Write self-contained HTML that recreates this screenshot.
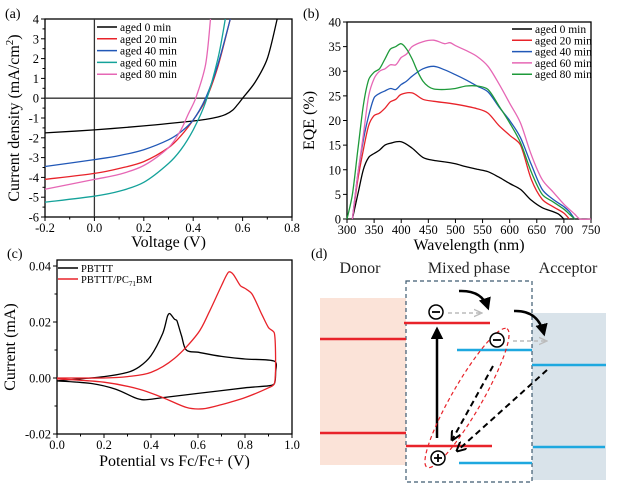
<!DOCTYPE html>
<html><head><meta charset="utf-8"><style>
body{margin:0;background:#fff;}
svg{display:block;font-family:"Liberation Serif",serif;}
</style></head><body>
<svg id="fig" width="619" height="487" viewBox="0 0 619 487" xmlns="http://www.w3.org/2000/svg">
<defs>
<marker id="ah" viewBox="0 0 10 10" refX="8" refY="5" markerWidth="5" markerHeight="5" orient="auto"><path d="M0,0 L10,5 L0,10 z" fill="#000"/></marker>
<marker id="ahg" viewBox="0 0 10 10" refX="9" refY="5" markerWidth="6" markerHeight="6" orient="auto"><path d="M0,1 L9,5 L0,9" fill="none" stroke="#bbb" stroke-width="1.5"/></marker>
<marker id="aho" viewBox="0 0 10 10" refX="9" refY="5" markerWidth="5" markerHeight="5" orient="auto"><path d="M0,0 L10,5 L0,10" fill="none" stroke="#000" stroke-width="2"/></marker>
</defs>
<g id="pa"></g>
<g id="pb"></g>
<g id="pc"></g>
<g id="pd">
<text x="5" y="18" font-size="14">(a)</text>
<text x="303" y="18" font-size="14">(b)</text>
<text x="7" y="258" font-size="14">(c)</text>
<text x="311" y="258" font-size="14">(d)</text>
<text x="360" y="273" font-size="16" text-anchor="middle" fill="#222">Donor</text>
<text x="469" y="273" font-size="16" text-anchor="middle" fill="#222">Mixed phase</text>
<text x="568" y="273" font-size="16" text-anchor="middle" fill="#222">Acceptor</text>
<rect x="320" y="298" width="86" height="167" fill="#fbe3d8"/>
<rect x="532" y="313" width="74" height="167" fill="#d9e3ea"/>
<rect x="406" y="281" width="126" height="201" fill="none" stroke="#3d5a70" stroke-width="1.2" stroke-dasharray="4,3"/>
<g stroke="#e8232a" stroke-width="2.5">
<line x1="320" y1="339" x2="406" y2="339"/><line x1="320" y1="433" x2="406" y2="433"/>
<line x1="404" y1="323" x2="490" y2="323"/><line x1="406" y1="446" x2="492" y2="446"/></g>
<g stroke="#1ea8df" stroke-width="2.5">
<line x1="457" y1="350" x2="532" y2="350"/><line x1="459" y1="463" x2="532" y2="463"/>
<line x1="532" y1="365" x2="606" y2="365"/><line x1="533" y1="447" x2="605" y2="447"/></g>
<line x1="437" y1="438" x2="437" y2="329" stroke="#000" stroke-width="2.5" marker-end="url(#ah)"/>
<ellipse cx="467" cy="398" rx="80" ry="15" transform="rotate(-60 467 398)" fill="none" stroke="#e8232a" stroke-width="1.2" stroke-dasharray="4,3"/>
<line x1="448" y1="313" x2="482" y2="313" stroke="#bbb" stroke-width="1.5" stroke-dasharray="4,3" marker-end="url(#ahg)"/>
<line x1="513" y1="341" x2="547" y2="341" stroke="#bbb" stroke-width="1.5" stroke-dasharray="4,3" marker-end="url(#ahg)"/>
<path d="M459,291 Q482,290 488,308" fill="none" stroke="#000" stroke-width="2.5" marker-end="url(#ah)"/>
<path d="M514,311 Q538,310 544,334" fill="none" stroke="#000" stroke-width="2.5" marker-end="url(#ah)"/>
<line x1="493" y1="366" x2="452" y2="440" stroke="#000" stroke-width="2" stroke-dasharray="6,4" marker-end="url(#aho)"/>
<line x1="547" y1="370" x2="457" y2="451" stroke="#000" stroke-width="2" stroke-dasharray="6,4" marker-end="url(#aho)"/>
<g fill="#fff" stroke="#000" stroke-width="1.5">
<circle cx="436" cy="312" r="7"/>
<circle cx="497" cy="340" r="7"/>
<circle cx="438" cy="458" r="7"/></g>
<g stroke="#000" stroke-width="1.8"><line x1="432" y1="312" x2="440" y2="312"/><line x1="493" y1="340" x2="501" y2="340"/><line x1="434" y1="458" x2="442" y2="458"/><line x1="438" y1="454" x2="438" y2="462"/></g>
</g>
</svg>
<script>
// ---- Panel (a) data ----
const jvV0=[-0.2,0,0.2,0.3,0.4,0.45,0.5,0.53,0.56,0.58,0.6,0.65,0.7,0.74];
const jvJ0=[-1.75,-1.6,-1.4,-1.28,-1.15,-1.07,-0.95,-0.83,-0.6,-0.32,0,0.8,2.0,4];
const jvV20=[-0.2,0,0.1,0.2,0.3,0.35,0.4,0.45,0.5,0.55];
const jvJ20=[-4.1,-3.8,-3.55,-3.2,-2.5,-1.9,-1.1,-0.1,1.6,4];
const jvV40=[-0.2,0,0.1,0.2,0.3,0.35,0.4,0.45,0.5,0.55];
const jvJ40=[-3.45,-3.1,-2.9,-2.6,-2.1,-1.7,-1.1,0,1.7,4];
const jvV60=[-0.2,0,0.1,0.2,0.3,0.35,0.4,0.45,0.5,0.53];
const jvJ60=[-5.25,-4.95,-4.7,-4.25,-3.3,-2.6,-1.6,-0.2,2.0,4];
const jvV80=[-0.2,0,0.1,0.2,0.3,0.35,0.38,0.41,0.45,0.47];
const jvJ80=[-4.6,-4.1,-3.85,-3.4,-2.5,-1.6,-0.8,0,1.7,4];
const jvLabels=["aged 0 min","aged 20 min","aged 40 min","aged 60 min","aged 80 min"];
// ---- Panel (b) data ----
const eqeLabels=["aged 0 min","aged 20 min","aged 40 min","aged 60 min","aged 80 min"];
const eqeW0=[310,320,330,340,350,360,370,380,400,420,440,460,480,500,520,540,560,580,600,620,640,660,680,690,700];
const eqeY0=[0,5,10,12.5,13.3,14,15,15.4,15.7,14.4,12.5,11.9,11.6,11.2,10.6,10.1,9.6,8.5,7.2,6,3.8,2.3,1.5,1,0];
const eqeW20=[310,320,330,340,350,360,370,380,390,400,420,440,460,500,540,560,580,600,620,640,660,680,700,710];
const eqeY20=[0,8,14,19,21,21.5,22.5,23.8,24.3,25.3,25.6,24.3,23.9,23.3,22.4,21.5,19,17,15,8,4,2.5,1.2,0];
const eqeW40=[310,320,330,340,350,360,370,380,390,400,410,420,440,460,480,500,520,540,560,580,600,620,640,660,680,700,710,720];
const eqeY40=[0,9,16,21,24.6,25.5,26,26.5,26.3,27.3,28,29,30.5,31,30.3,29.3,28.2,27,25.8,22.8,20,16.5,11,6,4,2.5,1.5,0];
const eqeW60=[310,320,330,340,350,360,370,380,390,400,410,420,440,460,480,490,500,520,540,560,580,600,620,640,660,680,700,720,730,750];
const eqeY60=[0,9,17,25,28.5,30,30.5,31.3,31.3,32.8,33.5,35,36,36.3,35.6,35.8,35.2,34.2,33,31,27.5,23.5,19.5,13,8,5.5,3,1,0,0];
const eqeW80=[300,310,320,330,340,350,360,370,380,390,400,410,420,430,440,450,460,480,500,520,540,560,580,600,620,640,660,680,700,710,720];
const eqeY80=[0,5,14,23,28.3,29.8,30.5,32.5,34.5,35,35.6,34.5,32.5,30,28,26.9,26.4,26.3,26.5,27,27,26.3,23,19.5,15.5,9.5,5,3.5,2,1,0];
// ---- Panel (c) data ----
const cvLabels=["PBTTT","PBTTT/PC71BM"];
const cvE1=[0,0.2,0.3,0.35,0.4,0.45,0.47,0.48,0.5,0.51,0.53,0.55,0.6,0.7,0.8,0.925,0.93,0.925,0.9,0.8,0.6,0.45,0.37,0.33,0.25,0.15,0];
const cvI1=[-0.001,0.0005,0.002,0.004,0.008,0.016,0.022,0.023,0.021,0.0205,0.015,0.01,0.0092,0.0077,0.0068,0.006,0.002,-0.002,-0.0028,-0.0035,-0.0055,-0.007,-0.0078,-0.007,-0.004,-0.002,-0.001];
const cvE2=[0,0.2,0.3,0.4,0.5,0.6,0.65,0.7,0.73,0.75,0.78,0.8,0.83,0.87,0.9,0.925,0.93,0.925,0.9,0.8,0.7,0.62,0.55,0.45,0.35,0.2,0];
const cvI2=[0,0,0.0005,0.002,0.007,0.016,0.024,0.033,0.0378,0.037,0.033,0.032,0.03,0.023,0.018,0.016,0.005,-0.002,-0.0035,-0.007,-0.0095,-0.011,-0.0105,-0.007,-0.004,-0.0015,-0.0003];

const NS="http://www.w3.org/2000/svg";
function mk(parent,tag,attrs){const e=document.createElementNS(NS,tag);for(const k in attrs)e.setAttribute(k,attrs[k]);parent.appendChild(e);return e;}
function scale(d0,d1,r0,r1){return v=>r0+(v-d0)/(d1-d0)*(r1-r0);}
function clampT(t,len){const m=Math.hypot(t[0],t[1]);const lim=0.35*len;if(m>lim&&m>0){return [t[0]*lim/m,t[1]*lim/m];}return t;}
function smoothPath(pts){let d="M"+pts[0][0].toFixed(1)+","+pts[0][1].toFixed(1);
 for(let i=0;i<pts.length-1;i++){const p0=pts[Math.max(0,i-1)],p1=pts[i],p2=pts[i+1],p3=pts[Math.min(pts.length-1,i+2)];
 const len=Math.hypot(p2[0]-p1[0],p2[1]-p1[1]);
 const t1=clampT([(p2[0]-p0[0])/6,(p2[1]-p0[1])/6],len),t2=clampT([(p3[0]-p1[0])/6,(p3[1]-p1[1])/6],len);
 const c1=[p1[0]+t1[0],p1[1]+t1[1]],c2=[p2[0]-t2[0],p2[1]-t2[1]];
 d+=" C"+c1.map(v=>v.toFixed(1))+" "+c2.map(v=>v.toFixed(1))+" "+p2.map(v=>v.toFixed(1));}return d;}

function axes(g,box,sx,sy,xt,yt,xfmt,yfmt,xminor,yminor,xtitle,ytitle,ytx,xty){
 const r=mk(g,"rect",{x:box[0],y:box[1],width:box[2]-box[0],height:box[3]-box[1],fill:"none",stroke:"#000","stroke-width":1.3});
 
 
 xt.forEach(v=>{const x=sx(v);mk(g,"line",{x1:x,y1:box[3],x2:x,y2:box[3]+4,stroke:"#000"});
  const t=mk(g,"text",{x:x,y:box[3]+15,"font-size":12.5,"text-anchor":"middle"});t.textContent=xfmt(v);
  
  });
 xminor.forEach(v=>{const x=sx(v);mk(g,"line",{x1:x,y1:box[3],x2:x,y2:box[3]+2.5,stroke:"#000"});});
 yt.forEach(v=>{const y=sy(v);mk(g,"line",{x1:box[0],y1:y,x2:box[0]-4,y2:y,stroke:"#000"});
  const t=mk(g,"text",{x:box[0]-6,y:y+4.5,"font-size":12.5,"text-anchor":"end"});t.textContent=yfmt(v);
  
  });
 yminor.forEach(v=>{const y=sy(v);mk(g,"line",{x1:box[0],y1:y,x2:box[0]-2.5,y2:y,stroke:"#000"});});
 const xt2=mk(g,"text",{x:(box[0]+box[2])/2,y:xty,"font-size":16,"text-anchor":"middle"});xt2.textContent=xtitle;
 
 
 const cy=(box[1]+box[3])/2;
 const yt2=mk(g,"text",{x:ytx,y:cy,"font-size":16,"text-anchor":"middle",transform:`rotate(-90 ${ytx} ${cy})`});yt2.innerHTML=ytitle;
 
 
}
function range(a,b,s){const r=[];for(let v=a;v<=b+1e-9;v+=s)r.push(+v.toFixed(6));return r;}
function legend(g,x,y,dy,labels,colors,fs){labels.forEach((l,i)=>{mk(g,"line",{x1:x,y1:y+i*dy,x2:x+20,y2:y+i*dy,stroke:colors[i],"stroke-width":1.5});
 const t=mk(g,"text",{x:x+23,y:y+i*dy+4,"font-size":fs});t.innerHTML=l;
 
 });}

// Panel a
(function(){const g=document.getElementById("pa");const box=[45,19,292,217];
 const sx=scale(-0.2,0.8,45,292),sy=scale(-6,4,217,19);
 axes(g,box,sx,sy,range(-0.2,0.8,0.2),range(-6,4,1),v=>v.toFixed(1),v=>String(v),range(-0.1,0.7,0.2),range(-5.5,3.5,1),"Voltage (V)","Current density (mA/cm<tspan font-size='11' dy='-6'>2</tspan><tspan dy='6'>)</tspan>",19,247);
 mk(g,"line",{x1:sx(0),y1:19,x2:sx(0),y2:217,stroke:"#333","stroke-width":1.3});
 mk(g,"line",{x1:45,y1:sy(0),x2:292,y2:sy(0),stroke:"#333","stroke-width":1.3});
 const cols=["#000","#e8232a","#2158b7","#14a29a","#e667b5"];
 const V=[jvV0,jvV20,jvV40,jvV60,jvV80],J=[jvJ0,jvJ20,jvJ40,jvJ60,jvJ80];
 V.forEach((vs,i)=>{const p=mk(g,"path",{d:smoothPath(vs.map((v,k)=>[sx(v),sy(J[i][k])])),fill:"none",stroke:cols[i],"stroke-width":1.3});
  
  });
 legend(g,97,27,11.8,jvLabels,cols,11.5);})();

// Panel b
(function(){const g=document.getElementById("pb");const box=[347,22,591,219];
 const sx=scale(300,750,347,591),sy=scale(0,40,219,22);
 axes(g,box,sx,sy,range(300,750,50),range(0,40,5),v=>String(v),v=>String(v),[],[],"Wavelength (nm)","EQE (%)",314,250);
 const cols=["#000","#e8232a","#2158b7","#e667b5","#1e9a3a"];
 const W=[eqeW0,eqeW20,eqeW40,eqeW60,eqeW80],Y=[eqeY0,eqeY20,eqeY40,eqeY60,eqeY80];
 W.forEach((ws,i)=>{const p=mk(g,"path",{d:smoothPath(ws.map((w,k)=>[sx(w),sy(Y[i][k])])),fill:"none",stroke:cols[i],"stroke-width":1.3});
  
  });
 legend(g,512,29,11.3,eqeLabels,cols,11.5);})();

// Panel c
(function(){const g=document.getElementById("pc");const box=[57,260,292,434];
 const sx=scale(0,1,57,292),sy=scale(-0.02,0.04,434,266);
 axes(g,box,sx,sy,range(0,1,0.2),[-0.02,0,0.02,0.04],v=>v.toFixed(1),v=>v.toFixed(2),range(0.1,0.9,0.2),[-0.01,0.01,0.03],"Potential vs Fc/Fc+ (V)","Current (mA)",15,466);
 const cols=["#000","#e8232a"];
 [[cvE1,cvI1],[cvE2,cvI2]].forEach((s,i)=>{const p=mk(g,"path",{d:smoothPath(s[0].map((e,k)=>[sx(e),sy(s[1][k])])),fill:"none",stroke:cols[i],"stroke-width":1.3});
  
  });
 legend(g,58,268,11,["PBTTT","PBTTT/PC<tspan font-size='7' dy='3'>71</tspan><tspan dy='-3'>BM</tspan>"],cols,10.5);})();
</script>
</body></html>
